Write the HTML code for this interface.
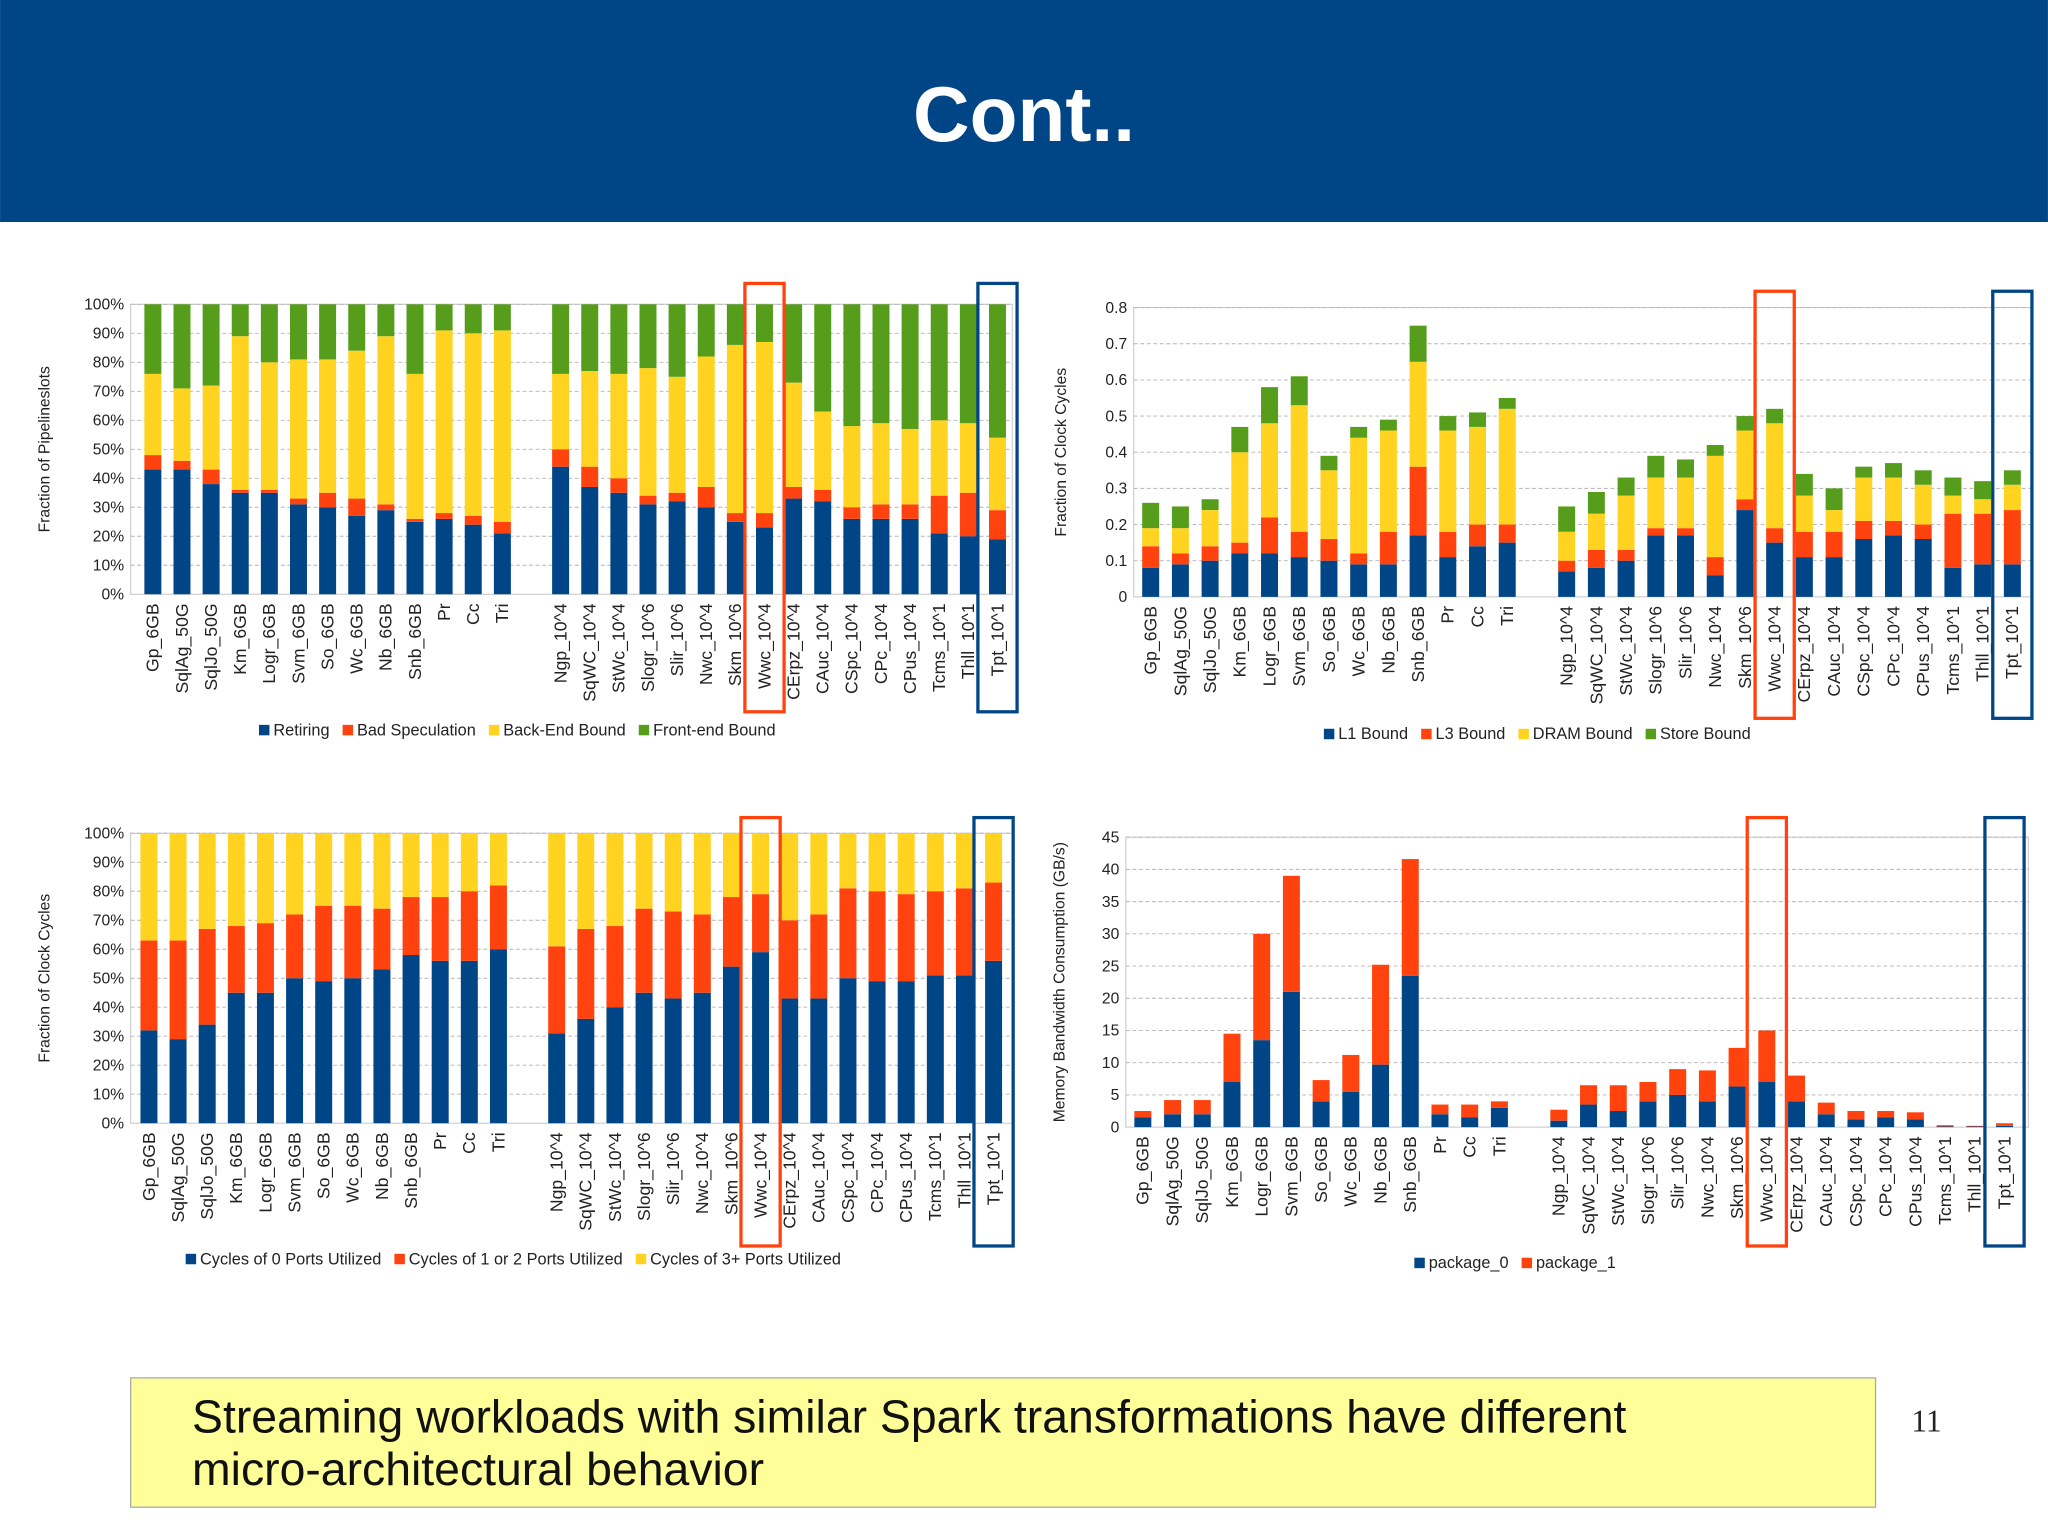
<!DOCTYPE html>
<html><head><meta charset="utf-8"><style>
html,body{margin:0;padding:0;background:#fff}
svg{display:block;font-family:"Liberation Sans",sans-serif}
</style></head><body>
<svg id="s" width="2048" height="1535" viewBox="0 0 1568 1175.3" xmlns="http://www.w3.org/2000/svg">
<rect x="0" y="0" width="1568" height="170" fill="#004586"/>
<text x="784" y="108" text-anchor="middle" font-size="60" font-weight="bold" fill="#fff">Cont..</text>
<g id="charts"></g>
<rect x="100" y="1055" width="1336" height="99" fill="#ffff99" stroke="#aaa" stroke-width="1"/>
<text font-size="35.5" fill="#111"><tspan x="147" y="1097">Streaming workloads with similar Spark transformations have different</tspan><tspan x="147" y="1137">micro-architectural behavior</tspan></text>
<text x="1475" y="1096" text-anchor="middle" font-size="24" font-family="Liberation Serif, serif" fill="#222">11</text>
</svg>
<script>
const categories = ["Gp_6GB","SqlAg_50G","SqlJo_50G","Km_6GB","Logr_6GB","Svm_6GB","So_6GB","Wc_6GB","Nb_6GB","Snb_6GB","Pr","Cc","Tri",null,"Ngp_10^4","SqWC_10^4","StWc_10^4","Slogr_10^6","Slir_10^6","Nwc_10^4","Skm_10^6","Wwc_10^4","CErpz_10^4","CAuc_10^4","CSpc_10^4","CPc_10^4","CPus_10^4","Tcms_10^1","Thll_10^1","Tpt_10^1"];
// Chart 1: pipeline slots (%), segment values
const retiring = [43,43,38,35,35,31,30,27,29,25,26,24,21,null,44,37,35,31,32,30,25,23,33,32,26,26,26,21,20,19];
const badSpec = [5,3,5,1,1,2,5,6,2,1,2,3,4,null,6,7,5,3,3,7,3,5,4,4,4,5,5,13,15,10];
const backEnd = [28,25,29,53,44,48,46,51,58,50,63,63,66,null,26,33,36,44,40,45,58,59,36,27,28,28,26,26,24,25];
const frontEnd = [24,29,28,11,20,19,19,16,11,24,9,10,9,null,24,23,24,22,25,18,14,13,27,37,42,41,43,40,41,46];
// Chart 2: fraction of clock cycles, segment values
const l1Bound = [.08,.09,.10,.12,.12,.11,.10,.09,.09,.17,.11,.14,.15,null,.07,.08,.10,.17,.17,.06,.24,.15,.11,.11,.16,.17,.16,.08,.09,.09];
const l3Bound = [.06,.03,.04,.03,.10,.07,.06,.03,.09,.19,.07,.06,.05,null,.03,.05,.03,.02,.02,.05,.03,.04,.07,.07,.05,.04,.04,.15,.14,.15];
const dramBound = [.05,.07,.10,.25,.26,.35,.19,.32,.28,.29,.28,.27,.32,null,.08,.10,.15,.14,.14,.28,.19,.29,.10,.06,.12,.12,.11,.05,.04,.07];
const storeBound = [.07,.06,.03,.07,.10,.08,.04,.03,.03,.10,.04,.04,.03,null,.07,.06,.05,.06,.05,.03,.04,.04,.06,.06,.03,.04,.04,.05,.05,.04];
// Chart 3: port utilization (%), segment values
const ports0 = [32,29,34,45,45,50,49,50,53,58,56,56,60,null,31,36,40,45,43,45,54,59,43,43,50,49,49,51,51,56];
const ports12 = [31,34,33,23,24,22,26,25,21,20,22,24,22,null,30,31,28,29,30,27,24,20,27,29,31,31,30,29,30,27];
const ports3 = [37,37,33,32,31,28,25,25,26,22,22,20,18,null,39,33,32,26,27,28,22,21,30,28,19,20,21,20,19,17];
// Chart 4: memory bandwidth (GB/s), segment values
const package0 = [1.5,2,2,7,13.5,21,4,5.5,9.7,23.5,2,1.5,3,null,1,3.5,2.5,4,5,4,6.3,7,4,2,1.2,1.5,1.2,0.1,0.1,0.2];
const package1 = [1,2.2,2.2,7.5,16.5,18,3.3,5.7,15.5,18.1,1.5,2,1,null,1.7,3,4,3,4,4.8,6,8,4,1.8,1.3,1,1.1,0.2,0.1,0.4];
const pctTicks = ["0%","10%","20%","30%","40%","50%","60%","70%","80%","90%","100%"];
const fracTicks = ["0","0.1","0.2","0.3","0.4","0.5","0.6","0.7","0.8"];
const gbTicks = ["0","5","10","15","20","25","30","35","40","45"];
const legend1 = ["Retiring","Bad Speculation","Back-End Bound","Front-end Bound"];
const legend2 = ["L1 Bound","L3 Bound","DRAM Bound","Store Bound"];
const legend3 = ["Cycles of 0 Ports Utilized","Cycles of 1 or 2 Ports Utilized","Cycles of 3+ Ports Utilized"];
const legend4 = ["package_0","package_1"];
const COLORS = ["#004586","#ff420e","#ffd320","#579d1c"];
const NS = "http://www.w3.org/2000/svg";
const root = document.getElementById('charts');
function mk(tag, attrs, parent, txt){
  const e = document.createElementNS(NS, tag);
  for (const k in attrs) e.setAttribute(k, attrs[k]);
  if (txt !== undefined) e.textContent = txt;
  parent.appendChild(e);
  return e;
}
function drawChart(c){
  const g = mk('g', {}, root);
  
  
  const ymax = c.ymax;
  const y = v => c.bottom - v / ymax * (c.bottom - c.top);
  const x = i => c.x0 + i * c.step;
  const pa = mk('rect', {x:c.left, y:c.top, width:c.right-c.left, height:c.bottom-c.top, fill:'#fff', stroke:'#c8c8c8', 'stroke-width':0.8}, g);
  
  
  c.ticks.forEach((t, k) => {
    const v = k * c.tickStep;
    const yy = y(v);
    if (k > 0) {
      const gl = mk('line', {x1:c.left, x2:c.right, y1:yy, y2:yy, stroke:'#b4b4b4', 'stroke-width':0.7, 'stroke-dasharray':'3,2'}, g);
      
      
    }
    const tl = mk('text', {x:c.left-5, y:yy+4, 'text-anchor':'end', 'font-size':12, fill:'#222'}, g, t);
    
    
  });
  const yt = mk('text', {transform:`translate(${c.left-c.titleOff},${(c.top+c.bottom)/2}) rotate(-90)`, 'text-anchor':'middle', 'font-size':12, fill:'#222'}, g, c.yTitle);
  
  
  const bw = 13;
  categories.forEach((cat, i) => {
    if (cat === null) return;
    let acc = 0;
    c.series.forEach((s, si) => {
      const v = s[i];
      const y1 = y(acc), y2 = y(acc + v);
      acc += v;
      const r = mk('rect', {x:x(i)-bw/2, y:y2, width:bw, height:Math.max(0, y1-y2), fill:COLORS[si]}, g);
      
      
    });
    const xl = mk('text', {transform:`translate(${x(i)+4.5},${c.bottom+7}) rotate(-90)`, 'text-anchor':'end', 'font-size':13.5, fill:'#222'}, g, cat);
    
    
  });
  [[21,'#ff420e'],[29,'#004586']].forEach(([i,col]) => {
    const b = mk('rect', {x:x(i)-15, y:c.boxTop, width:30, height:c.boxBottom-c.boxTop, fill:'none', stroke:col, 'stroke-width':2.5}, g);
    
    
  });
  const lg = mk('g', {}, g);
  
  
  const entries = c.legend.map((l, k) => {
    const e = mk('g', {}, lg);
    
    
    const r = mk('rect', {y:c.legendY-8, width:8, height:8, fill:COLORS[k]}, e);
    const t = mk('text', {y:c.legendY, 'font-size':12.5, fill:'#222'}, e, l);
    let w = 0;
    try { w = t.getComputedTextLength(); } catch(err) {}
    if (!w) w = l.length * 6.5;
    return {r, t, w: 11 + w};
  });
  const gap = 10;
  const total = entries.reduce((a,b)=>a+b.w,0) + gap*(entries.length-1);
  let lx = c.legendX - total/2;
  entries.forEach(en => {
    en.r.setAttribute('x', lx);
    en.t.setAttribute('x', lx+11);
    lx += en.w + gap;
  });
}
drawChart({name:'pipeline-slots-chart', left:100, right:775, top:233, bottom:455, x0:117, step:22.3, ymax:100, tickStep:10, ticks:pctTicks, yTitle:'Fraction of Pipelineslots', titleOff:62, series:[retiring,badSpec,backEnd,frontEnd], legend:legend1, legendX:396, legendY:563, boxTop:217, boxBottom:545});
drawChart({name:'memory-bound-chart', left:868, right:1555, top:235.5, bottom:457, x0:881, step:22.75, ymax:0.8, tickStep:0.1, ticks:fracTicks, yTitle:'Fraction of Clock Cycles', titleOff:52, series:[l1Bound,l3Bound,dramBound,storeBound], legend:legend2, legendX:1177, legendY:566, boxTop:223, boxBottom:550});
drawChart({name:'port-utilization-chart', left:100, right:775, top:638, bottom:860, x0:114, step:22.3, ymax:100, tickStep:10, ticks:pctTicks, yTitle:'Fraction of Clock Cycles', titleOff:62, series:[ports0,ports12,ports3], legend:legend3, legendX:393, legendY:968, boxTop:626, boxBottom:954});
drawChart({name:'memory-bandwidth-chart', left:862, right:1553, top:641, bottom:863, x0:875, step:22.75, ymax:45, tickStep:5, ticks:gbTicks, yTitle:'Memory Bandwidth Consumption (GB/s)', titleOff:47, series:[package0,package1], legend:legend4, legendX:1160, legendY:971, boxTop:626, boxBottom:954});
</script>
</body></html>
